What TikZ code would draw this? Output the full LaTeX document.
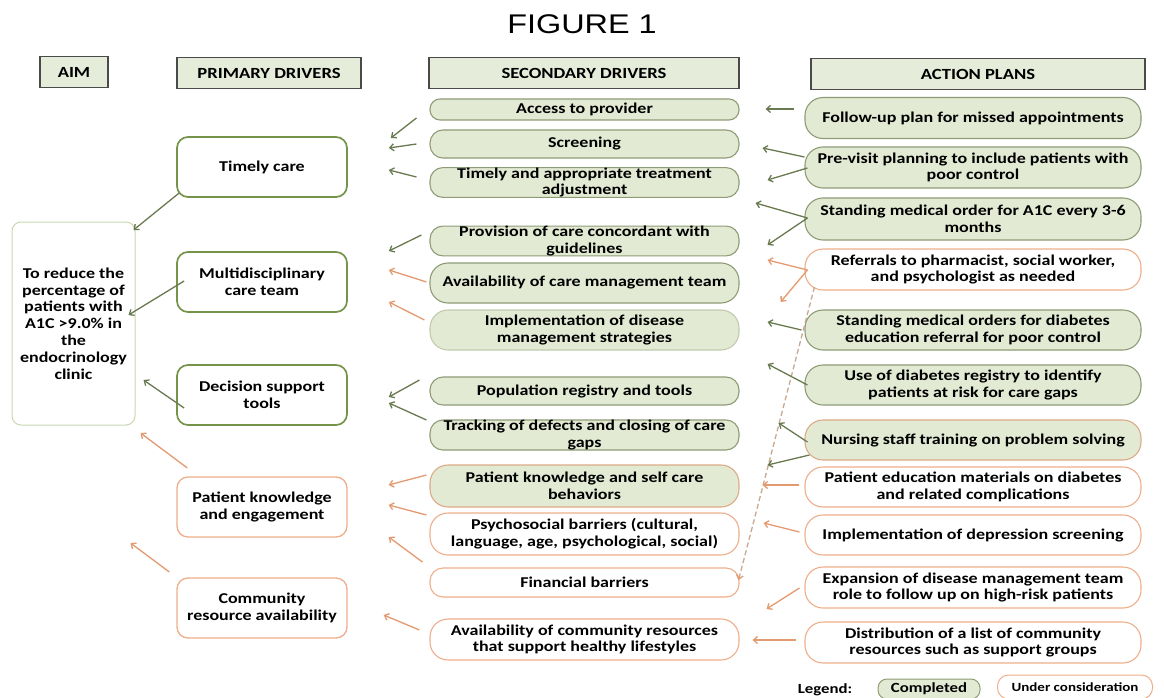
\documentclass[tikz,border=0pt]{standalone}
\usepackage{fontspec}
\setmainfont{Carlito}[FakeStretch=1.2]
\newfontfamily\titlefont{Liberation Sans}[FakeStretch=1.2]
\usetikzlibrary{arrows.meta}
\definecolor{gfill}{HTML}{E3EAD4}
\definecolor{gline}{HTML}{8E9C76}
\definecolor{pgline}{HTML}{76934A}
\definecolor{oline}{HTML}{EFAE8A}
\definecolor{garrow}{HTML}{6A7A50}
\definecolor{oarrow}{HTML}{E49A70}
\definecolor{hdrfill}{HTML}{E6ECDA}
\definecolor{hdrline}{HTML}{4A4A4A}
\definecolor{aimline}{HTML}{C9D8B0}
\definecolor{dashc}{HTML}{C8A890}
\begin{document}
\begin{tikzpicture}[x=1pt,y=-1pt,
 every node/.style={font=\bfseries\fontsize{15}{16.8}\selectfont, text=black, align=center, inner xsep=2pt, inner ysep=0pt},
 hdr/.style={draw=hdrline, fill=hdrfill, line width=1.4pt, minimum height=31pt, font=\bfseries\fontsize{15.5}{17}\selectfont},
 prim/.style={rounded corners=11pt, line width=1.7pt, fill=white, minimum width=170pt, minimum height=60pt},
 pg/.style={prim, draw=pgline},
 po/.style={prim, draw=oline, line width=1.3pt},
 pill/.style={rounded corners=13pt, line width=1.1pt, minimum width=309pt},
 sg/.style={pill, fill=gfill, draw=gline},
 so/.style={pill, fill=white, draw=oline},
 act/.style={pill, minimum width=336pt, minimum height=41pt, rounded corners=18pt},
 ag/.style={act, fill=gfill, draw=gline},
 ao/.style={act, fill=white, draw=oline},
 ga/.style={draw=garrow, line width=1.3pt, -{Straight Barb[length=4pt,width=7pt]}},
 oa/.style={ga, draw=oarrow},
]
\useasboundingbox[fill=white] (0,0) rectangle (1164,698);

% title
\node[font=\titlefont\fontsize{27}{30}\selectfont] (title) at (582,24) {FIGURE 1};

% headers
\node[hdr, minimum width=68pt] (hAim) at (74,72) {AIM};
\node[hdr, minimum width=184pt] (hPri) at (269,73) {PRIMARY DRIVERS};
\node[hdr, minimum width=310pt, line width=1.9pt] (hSec) at (584,73) {SECONDARY DRIVERS};
\node[hdr, minimum width=334pt] (hAct) at (978,74) {ACTION PLANS};

% aim
\node[draw=aimline, line width=1pt, rounded corners=9pt, minimum width=123pt, minimum height=203pt, fill=white] (aim) at (73.5,323.5)
 {To reduce the\\percentage of\\patients with\\A1C >9.0\% in\\the\\endocrinology\\clinic};

% primary drivers
\node[pg] (p1) at (262,167) {Timely care};
\node[pg] (p2) at (262,282) {Multidisciplinary\\care team};
\node[pg] (p3) at (262,395) {Decision support\\tools};
\node[po] (p4) at (262,507) {Patient knowledge\\and engagement};
\node[po] (p5) at (262,608) {Community\\resource availability};

% secondary drivers
\node[sg, minimum height=21pt, rounded corners=10pt] (s1) at (584.5,109.5) {Access to provider};
\node[sg, minimum height=28pt] (s2) at (584.5,144) {Screening};
\node[sg, minimum height=29pt] (s3) at (584.5,182.5) {Timely and appropriate treatment\\adjustment};
\node[sg, minimum height=28pt] (s4) at (584.5,241) {Provision of care concordant with\\guidelines};
\node[sg, minimum height=40pt, rounded corners=18pt] (s5) at (584.5,283) {Availability of care management team};
\node[sg, minimum height=40pt, rounded corners=18pt, draw=gfill!60!gline] (s6) at (584.5,330) {Implementation of disease\\management strategies};
\node[sg, minimum height=28pt] (s7) at (584.5,391) {Population registry and tools};
\node[sg, minimum height=30pt] (s8) at (584.5,435) {Tracking of defects and closing of care\\gaps};
\node[sg, minimum height=42pt, rounded corners=18pt, draw=oline!80!gline] (s9) at (584.5,486) {Patient knowledge and self care\\behaviors};
\node[so, minimum height=42pt, rounded corners=18pt] (s10) at (584.5,534) {Psychosocial barriers (cultural,\\language, age, psychological, social)};
\node[so, minimum height=29pt] (s11) at (584.5,582.5) {Financial barriers};
\node[so, minimum height=41pt, rounded corners=18pt] (s12) at (584.5,639.5) {Availability of community resources\\that support healthy lifestyles};

% action plans
\node[ag] (a1) at (973,118) {Follow-up plan for missed appointments};
\node[ag] (a2) at (973,167.5) {Pre-visit planning to include patients with\\poor control};
\node[ag, minimum height=42pt] (a3) at (973,219) {Standing medical order for A1C every 3-6\\months};
\node[ao] (a4) at (973,269.5) {Referrals to pharmacist, social worker,\\and psychologist as needed};
\node[ag, minimum height=40pt] (a5) at (973,330) {Standing medical orders for diabetes\\education referral for poor control};
\node[ag, minimum height=40pt] (a6) at (973,385) {Use of diabetes registry to identify\\patients at risk for care gaps};
\node[ag, minimum height=40pt, draw=oline!80!gline] (a7) at (973,440) {Nursing staff training on problem solving};
\node[ao, minimum height=40pt] (a8) at (973,487) {Patient education materials on diabetes\\and related complications};
\node[ao, minimum height=40pt] (a9) at (973,535) {Implementation of depression screening};
\node[ao] (a10) at (973,587.5) {Expansion of disease management team\\role to follow up on high-risk patients};
\node[ao] (a11) at (973,642.5) {Distribution of a list of community\\resources such as support groups};

% legend
\node[font=\bfseries\fontsize{14}{15}\selectfont] (legend) at (825,690) {Legend:};
\node[fill=gfill, draw=gline, line width=1pt, rounded corners=9pt, minimum width=102pt, minimum height=20pt, font=\bfseries\fontsize{14}{15}\selectfont] (lgC) at (929,689) {Completed};
\node[fill=white, draw=oline, line width=1pt, rounded corners=11pt, minimum width=155pt, minimum height=24pt, font=\bfseries\fontsize{12.5}{13}\selectfont] (lgU) at (1075,687) {Under consideration};

% secondary -> primary
\draw[ga] ([shift={(-13,8.5)}]s1.west) -- ([shift={(43,-29)}]p1.east);
\draw[ga] ([shift={(-13,0)}]s2.west) -- ([shift={(41,-19)}]p1.east);
\draw[ga] ([shift={(-13,-5.5)}]s3.west) -- ([shift={(41,3)}]p1.east);
\draw[ga] ([shift={(-8,-6)}]s4.west) -- ([shift={(41,-31)}]p2.east);
\draw[oa] ([shift={(-3,-1)}]s5.west) -- ([shift={(41,-12)}]p2.east);
\draw[oa] ([shift={(-5,-10)}]s6.west) -- ([shift={(41,20)}]p2.east);
\draw[ga] ([shift={(-10,-11)}]s7.west) -- ([shift={(41,2)}]p3.east);
\draw[ga] ([shift={(-3,-15)}]s8.west) -- ([shift={(41,8)}]p3.east);
\draw[oa] ([shift={(-3,-11)}]s9.west) -- ([shift={(41,-22)}]p4.east);
\draw[oa] ([shift={(-3,-19)}]s10.west) -- ([shift={(41,-2)}]p4.east);
\draw[oa] ([shift={(-7,-20.5)}]s11.west) -- ([shift={(41,30)}]p4.east);
\draw[oa] ([shift={(-10,-9.5)}]s12.west) -- ([shift={(36,7)}]p5.east);

% primary -> aim
\draw[ga] ([shift={(3,26)}]p1.west) -- ([shift={(-2,-93.5)}]aim.east);
\draw[ga] ([shift={(8,-1)}]p2.west) -- ([shift={(-7,-8.5)}]aim.east);
\draw[ga] ([shift={(8,13)}]p3.west) -- ([shift={(8,56.5)}]aim.east);
\draw[oa] ([shift={(11,-39)}]p4.west) -- ([shift={(5,109.5)}]aim.east);
\draw[oa] ([shift={(-7,-36)}]p5.west) -- ([shift={(-5,219.5)}]aim.east);

% action -> secondary
\draw[ga] ([shift={(-10,-9)}]a1.west) -- ([shift={(26,-0.5)}]s1.east);
\draw[ga] ([shift={(0,-10.5)}]a2.west) -- ([shift={(23,4)}]s2.east);
\draw[ga] ([shift={(3,0.5)}]a2.west) -- ([shift={(28,-2.5)}]s3.east);
\draw[ga] ([shift={(3,-1)}]a3.west) -- ([shift={(16,20.5)}]s3.east);
\draw[ga] ([shift={(3,-1)}]a3.west) -- ([shift={(28,4)}]s4.east);
\draw[oa] ([shift={(3,0.5)}]a4.west) -- ([shift={(28,-23)}]s5.east);
\draw[oa] ([shift={(3,0.5)}]a4.west) -- ([shift={(41,19)}]s5.east);
\draw[draw=dashc, line width=1.3pt, dash pattern=on 5pt off 3pt, -{Straight Barb[length=4pt,width=7pt,color=oarrow]}]
  ([shift={(10,17.5)}]a4.west) -- ([shift={(-1,-2.5)}]s11.east);
\draw[ga] ([shift={(-3,0)}]a5.west) -- ([shift={(28,-8)}]s6.east);
\draw[ga] ([shift={(3,0)}]a6.west) -- ([shift={(28,-27)}]s7.east);
\draw[ga] ([shift={(3,2)}]a7.west) -- ([shift={(39,-12)}]s8.east);
\draw[ga] ([shift={(5,15)}]a7.west) -- ([shift={(28,-21)}]s9.east);
\draw[oa] ([shift={(-5,-2)}]a8.west) -- ([shift={(23,-1)}]s9.east);
\draw[oa] ([shift={(-5,-3)}]a9.west) -- ([shift={(24,-11)}]s10.east);
\draw[oa] ([shift={(-5,0.5)}]a10.west) -- ([shift={(27,26.5)}]s11.east);
\draw[oa] ([shift={(-8,-2.5)}]a11.west) -- ([shift={(13,0.5)}]s12.east);
\end{tikzpicture}
\end{document}
